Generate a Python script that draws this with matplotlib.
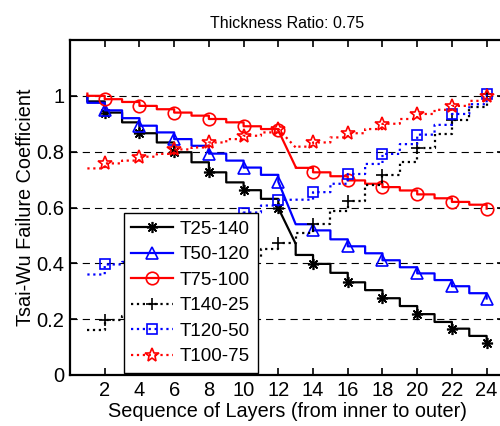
import numpy as np
import matplotlib
matplotlib.use("Agg")
import matplotlib.pyplot as plt

plt.rcParams['font.family'] = ['Liberation Sans', 'DejaVu Sans']

# ------------------------------------------------
# Data (values read per layer, 1..24)
# ------------------------------------------------

layers = list(range(1, 25))

t25_140 = [0.98, 0.94, 0.905, 0.866, 0.833, 0.798, 0.762, 0.726, 0.69, 0.662, 0.631, 0.598,
           0.43, 0.398, 0.366, 0.332, 0.304, 0.275, 0.247, 0.218, 0.19, 0.166, 0.14, 0.115]
t50_120 = [0.975, 0.948, 0.92, 0.893, 0.869, 0.845, 0.821, 0.793, 0.768, 0.743, 0.717, 0.692,
           0.54, 0.518, 0.486, 0.461, 0.436, 0.411, 0.386, 0.364, 0.34, 0.318, 0.293, 0.274]
t75_100 = [1.0, 0.988, 0.978, 0.964, 0.952, 0.94, 0.929, 0.917, 0.905, 0.891, 0.881, 0.876,
           0.742, 0.726, 0.712, 0.697, 0.685, 0.673, 0.661, 0.647, 0.633, 0.62, 0.61, 0.596]
t140_25 = [0.16, 0.196, 0.21, 0.235, 0.26, 0.285, 0.315, 0.345, 0.38, 0.42, 0.45, 0.472,
           0.507, 0.542, 0.589, 0.625, 0.679, 0.718, 0.764, 0.813, 0.863, 0.913, 0.961, 1.005]
t120_50 = [0.36, 0.396, 0.405, 0.42, 0.44, 0.46, 0.485, 0.515, 0.55, 0.582, 0.607, 0.627,
           0.628, 0.655, 0.685, 0.72, 0.756, 0.792, 0.827, 0.861, 0.896, 0.935, 0.97, 1.005]
t100_75 = [0.74, 0.758, 0.768, 0.782, 0.792, 0.808, 0.815, 0.833, 0.845, 0.857, 0.869, 0.881,
           0.818, 0.833, 0.851, 0.866, 0.881, 0.9, 0.917, 0.935, 0.95, 0.964, 0.982, 1.0]

labels = ['T25-140', 'T50-120', 'T75-100', 'T140-25', 'T120-50', 'T100-75']
series = [t25_140, t50_120, t75_100, t140_25, t120_50, t100_75]
start_values = [1.0, 0.995, 1.008, 0.16, 0.36, 0.74]      # value at the very first vertex
layer12_end = [0.47, 0.54, 0.745, 0.472, 0.628, 0.815]    # end of layer 12 (joins layer 13)

colors = ['k', 'b', 'r', 'k', 'b', 'r']
styles = ['-', '-', '-', ':', ':', ':']
markers = [(8, 2, 0), '^', 'o', '+', 's', '*']
msizes = [8, 9, 9, 9, 7.5, 10]

# ------------------------------------------------
# Figure
# ------------------------------------------------

fig = plt.figure(figsize=(5.0, 4.26), dpi=100)
ax = fig.add_axes([70/500, 51/426, 434/500, 335/426])

for vals, first, end12, lab, col, ls, mk, ms in zip(series, start_values, layer12_end,
                                                   labels, colors, styles, markers, msizes):
    xs, ys, marks = [layers[0]], [first], []
    for i, (x, v) in enumerate(zip(layers, vals)):
        if x % 2 == 0:
            marks.append(len(xs))
        xs.append(x)
        ys.append(v)
        if i < len(layers) - 1:
            xs.append(x + 1)
            ys.append(end12 if x == 12 else v)
    ax.plot(xs, ys, color=col, linestyle=ls, linewidth=1.6, marker=mk,
            markersize=ms, markevery=marks, markerfacecolor='none',
            markeredgecolor=col, markeredgewidth=1.2, label=lab, zorder=3)

ax.set_xlim(0, 25)
ax.set_ylim(0, 1.2)
ax.set_xticks(range(2, 25, 2))
ax.set_yticks([0, 0.2, 0.4, 0.6, 0.8, 1.0])
ax.set_yticklabels(['0', '0.2', '0.4', '0.6', '0.8', '1'])

ax.yaxis.grid(True, color='k', linestyle=(0, (6.5, 4.5)), linewidth=0.8)
ax.set_axisbelow(True)

ax.tick_params(direction='in', length=5, width=1.2, top=True, right=True,
               labelsize=14.5, pad=4)
for s in ax.spines.values():
    s.set_linewidth(1.6)

ax.set_xlabel('Sequence of Layers (from inner to outer)', fontsize=14.3, labelpad=2)
ax.set_ylabel('Tsai-Wu Failure Coefficient', fontsize=14.3, labelpad=1)
ax.set_title('Thickness Ratio: 0.75', fontsize=11.5, pad=9)

leg = ax.legend(loc='lower left', bbox_to_anchor=(0.124, 0.006), borderaxespad=0,
                fontsize=13.5, fancybox=False, framealpha=1, edgecolor='k',
                handlelength=2.2, handletextpad=0.4, labelspacing=0.45,
                borderpad=0.4, numpoints=1)
leg.get_frame().set_linewidth(1.0)

fig.savefig('out.png', dpi=100)
